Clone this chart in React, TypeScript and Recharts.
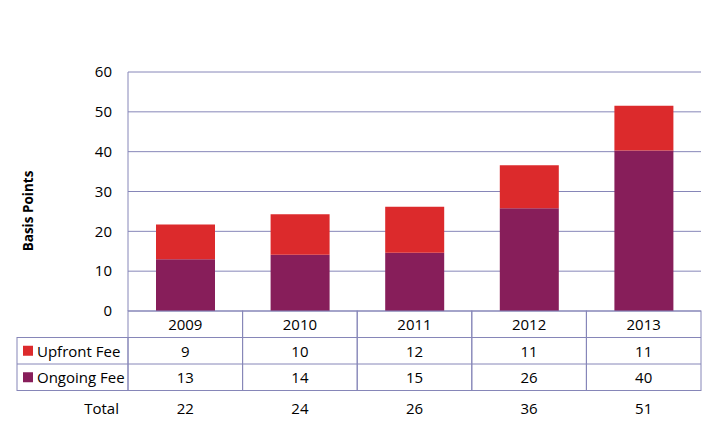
import React from "react";
import { BarChart, Bar, XAxis, YAxis, CartesianGrid } from "recharts";

const years = ["2009", "2010", "2011", "2012", "2013"];
const ongoingFee = [13.0, 14.1, 14.6, 25.8, 40.3];
const upfrontFee = [8.7, 10.2, 11.6, 10.8, 11.2];
// figures printed in the data table (rounded in the source)
const upfrontLabels = ["9", "10", "12", "11", "11"];
const ongoingLabels = ["13", "14", "15", "26", "40"];
const totalLabels = ["22", "24", "26", "36", "51"];
const yTicks = [0, 10, 20, 30, 40, 50, 60];

const UPFRONT = "#dc2a2c";
const ONGOING = "#871e5a";
const GRID = "#8686b8";
const FONT = "'Open Sans', 'Noto Sans', sans-serif";

const W = 708;
const H = 439;
const PLOT_LEFT = 128;
const PLOT_RIGHT = 701;
const BAND = (PLOT_RIGHT - PLOT_LEFT) / years.length;
const ROW = 26.5;

const data = years.map((year, i) => ({
  year,
  ongoing: ongoingFee[i],
  upfront: upfrontFee[i],
}));

const TableTick = (props: any) => {
  const { x, y, index } = props;
  const left = x - BAND / 2;
  const cells = [years[index], upfrontLabels[index], ongoingLabels[index]];
  return (
    <g fontFamily={FONT} fontSize={15} fill="#000">
      <rect x={left} y={y} width={BAND} height={ROW * 3} fill="none" stroke={GRID} strokeWidth={1} />
      <line x1={left} x2={left + BAND} y1={y + ROW} y2={y + ROW} stroke={GRID} />
      <line x1={left} x2={left + BAND} y1={y + ROW * 2} y2={y + ROW * 2} stroke={GRID} />
      {cells.map((c, r) => (
        <text key={r} x={x} y={y + ROW * r + ROW / 2} textAnchor="middle" dominantBaseline="central" fill="#000">
          {c}
        </text>
      ))}
      <text x={x} y={y + 97} textAnchor="middle" dominantBaseline="central" fill="#000">
        {totalLabels[index]}
      </text>
      {index === 0 && (
        <g>
          <rect x={17} y={y + ROW} width={left - 17} height={ROW * 2} fill="none" stroke={GRID} />
          <line x1={17} x2={left} y1={y + ROW * 2} y2={y + ROW * 2} stroke={GRID} />
          <rect x={23} y={y + ROW * 1.5 - 5} width={10} height={10} fill={UPFRONT} />
          <text x={37} y={y + ROW * 1.5} dominantBaseline="central" fill="#000">Upfront Fee</text>
          <rect x={23} y={y + ROW * 2.5 - 5} width={10} height={10} fill={ONGOING} />
          <text x={37} y={y + ROW * 2.5} dominantBaseline="central" fill="#000">Ongoing Fee</text>
          <text x={119} y={y + 97} textAnchor="end" dominantBaseline="central" fill="#000">Total</text>
        </g>
      )}
    </g>
  );
};

export default function App() {
  return (
    <div style={{ position: "absolute", left: 0, top: 0, width: W, height: H, background: "#fff" }}>
      <BarChart
        width={W}
        height={H}
        data={data}
        margin={{ top: 72, right: W - PLOT_RIGHT, left: PLOT_LEFT - 60, bottom: 102 }}
      >
        <CartesianGrid vertical={false} stroke={GRID} strokeWidth={1} />
        <XAxis
          dataKey="year"
          height={26}
          axisLine={false}
          tickLine={false}
          tickSize={0}
          tickMargin={0}
          interval={0}
          tick={<TableTick />}
        />
        <YAxis
          width={60}
          domain={[0, 60]}
          ticks={yTicks}
          interval={0}
          axisLine={{ stroke: GRID }}
          tickLine={false}
          tickSize={0}
          tickMargin={16}
          tick={{ fill: "#000", fontSize: 15, fontFamily: FONT }}
          label={{
            content: () => (
              <text
                x={28}
                y={211}
                transform="rotate(-90 28 211)"
                textAnchor="middle"
                dominantBaseline="central"
                fontFamily={FONT}
                fontSize={13.5}
                fontWeight="bold"
                fill="#000"
              >
                Basis Points
              </text>
            ),
          }}
        />
        <Bar dataKey="ongoing" stackId="fees" fill={ONGOING} barSize={59} isAnimationActive={false} />
        <Bar dataKey="upfront" stackId="fees" fill={UPFRONT} barSize={59} isAnimationActive={false} />
      </BarChart>
    </div>
  );
}
